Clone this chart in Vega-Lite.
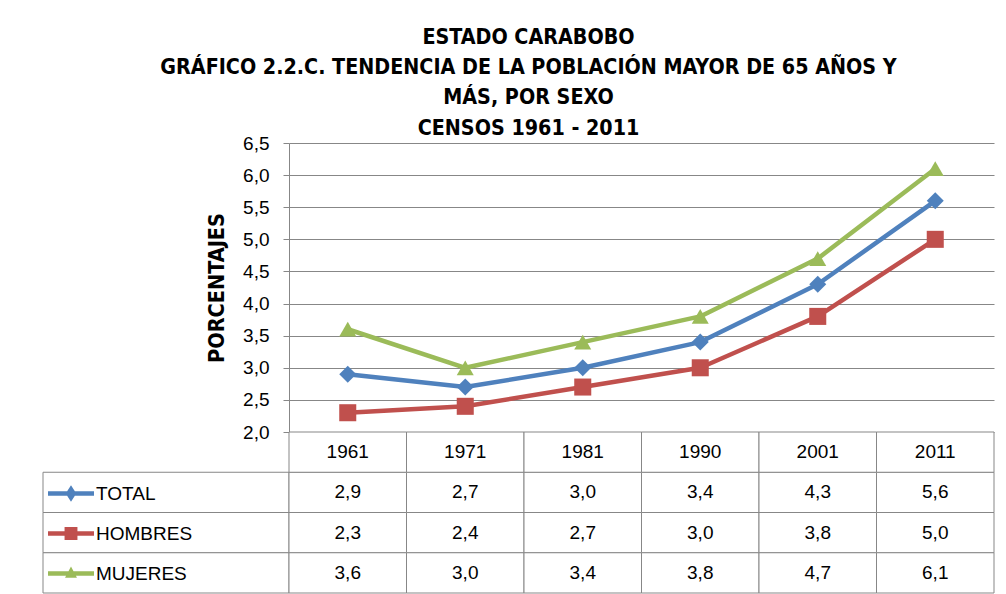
{
  "$schema": "https://vega.github.io/schema/vega-lite/v6.json",
  "padding": {"left": 42, "top": 26, "right": 0, "bottom": 0},
  "background": "white",
  "datasets": {
    "pop": [
      {"year": "1961", "series": "TOTAL", "value": 2.9},
      {"year": "1971", "series": "TOTAL", "value": 2.7},
      {"year": "1981", "series": "TOTAL", "value": 3.0},
      {"year": "1990", "series": "TOTAL", "value": 3.4},
      {"year": "2001", "series": "TOTAL", "value": 4.3},
      {"year": "2011", "series": "TOTAL", "value": 5.6},
      {"year": "1961", "series": "HOMBRES", "value": 2.3},
      {"year": "1971", "series": "HOMBRES", "value": 2.4},
      {"year": "1981", "series": "HOMBRES", "value": 2.7},
      {"year": "1990", "series": "HOMBRES", "value": 3.0},
      {"year": "2001", "series": "HOMBRES", "value": 3.8},
      {"year": "2011", "series": "HOMBRES", "value": 5.0},
      {"year": "1961", "series": "MUJERES", "value": 3.6},
      {"year": "1971", "series": "MUJERES", "value": 3.0},
      {"year": "1981", "series": "MUJERES", "value": 3.4},
      {"year": "1990", "series": "MUJERES", "value": 3.8},
      {"year": "2001", "series": "MUJERES", "value": 4.7},
      {"year": "2011", "series": "MUJERES", "value": 6.1}
    ]
  },
  "title": {
    "text": ["ESTADO CARABOBO", "GRÁFICO 2.2.C. TENDENCIA  DE LA POBLACIÓN MAYOR DE 65 AÑOS Y", "MÁS, POR SEXO", "CENSOS 1961 - 2011"],
    "font": "DejaVu Sans Condensed",
    "fontWeight": "bold",
    "fontSize": 21.3,
    "lineHeight": 30.3,
    "color": "black",
    "anchor": "middle",
    "dx": 10,
    "offset": -5
  },
  "columns": 2,
  "spacing": 0,
  "bounds": "flush",
  "resolve": {
    "scale": {"color": "independent", "fill": "independent", "shape": "independent"},
    "legend": {"color": "independent", "fill": "independent", "shape": "independent"}
  },
  "concat": [
    {
      "width": 246,
      "height": 289,
      "data": {"values": []},
      "mark": "point"
    },
    {
      "width": 705,
      "height": 289,
      "data": {"name": "pop"},
      "encoding": {
        "x": {"field": "year", "type": "ordinal", "scale": {"type": "point", "padding": 0.5}, "axis": null},
        "y": {
          "field": "value",
          "type": "quantitative",
          "scale": {"domain": [2, 6.5], "nice": false, "zero": false},
          "axis": {
            "title": "PORCENTAJES",
            "values": [2, 2.5, 3, 3.5, 4, 4.5, 5, 5.5, 6, 6.5],
            "format": ".1f",
            "grid": true,
            "gridColor": "#878787",
            "gridWidth": 1,
            "gridOpacity": 1,
            "domainColor": "#878787",
            "tickColor": "#878787",
            "tickSize": 6,
            "labelFontSize": 19,
            "labelFont": "Liberation Sans",
            "labelColor": "black",
            "labelPadding": 14,
            "labelFlush": false,
            "labelOverlap": false,
            "titleFont": "DejaVu Sans Condensed",
            "titleFontSize": 21.5,
            "titleFontWeight": "bold",
            "titleColor": "black",
            "titlePadding": 14
          }
        },
        "color": {
          "field": "series",
          "type": "nominal",
          "scale": {"domain": ["TOTAL", "HOMBRES", "MUJERES"], "range": ["#4F81BD", "#C0504D", "#9BBB59"]},
          "legend": null
        }
      },
      "layer": [
        {"mark": {"type": "line", "strokeWidth": 4.5, "strokeJoin": "round", "strokeCap": "round"}},
        {
          "mark": {"type": "point", "filled": true, "size": 290, "opacity": 1},
          "encoding": {
            "shape": {
              "field": "series",
              "type": "nominal",
              "scale": {"domain": ["TOTAL", "HOMBRES", "MUJERES"], "range": ["diamond", "square", "triangle-up"]},
              "legend": null
            }
          }
        }
      ]
    },
    {
      "width": 246,
      "height": 161,
      "data": {"name": "pop"},
      "transform": [{"filter": "datum.year === '1961'"}],
      "encoding": {
        "y": {
          "field": "series",
          "type": "nominal",
          "scale": {"domain": ["Año", "TOTAL", "HOMBRES", "MUJERES"], "paddingInner": 0, "paddingOuter": 0},
          "axis": null
        }
      },
      "layer": [
        {
          "mark": {"type": "point", "filled": true, "size": 2116, "opacity": 1},
          "encoding": {
            "fill": {
              "field": "series",
              "type": "nominal",
              "scale": {"domain": ["TOTAL", "HOMBRES", "MUJERES"], "range": ["#4F81BD", "#C0504D", "#9BBB59"]},
              "legend": {
                "orient": "none",
                "legendX": 5,
                "legendY": 38.5,
                "title": null,
                "labelFont": "Liberation Sans",
                "labelFontSize": 19,
                "labelColor": "black",
                "labelOffset": 2,
                "symbolSize": 2116,
                "symbolOpacity": 1,
                "symbolStrokeWidth": 0,
                "rowPadding": 7,
                "padding": 0,
                "zindex": 1
              }
            },
            "shape": {
              "field": "series",
              "type": "nominal",
              "scale": {
                "domain": ["TOTAL", "HOMBRES", "MUJERES"],
                "range": [
                  "M-1,-0.1L1,-0.1L1,0.1L-1,0.1Z M0,-0.36L0.23,0L0,0.36L-0.23,0Z",
                  "M-1,-0.1L1,-0.1L1,0.1L-1,0.1Z M-0.28,-0.28L0.28,-0.28L0.28,0.28L-0.28,0.28Z",
                  "M-1,-0.1L1,-0.1L1,0.1L-1,0.1Z M0,-0.3L0.26,0.18L-0.26,0.18Z"
                ]
              },
              "legend": {
                "orient": "none",
                "legendX": 5,
                "legendY": 38.5,
                "title": null,
                "labelFont": "Liberation Sans",
                "labelFontSize": 19,
                "labelColor": "black",
                "labelOffset": 2,
                "symbolSize": 2116,
                "symbolOpacity": 1,
                "symbolStrokeWidth": 0,
                "rowPadding": 7,
                "padding": 0,
                "zindex": 1
              }
            }
          }
        },
        {"mark": {"type": "rect", "fill": "white", "stroke": "#878787", "strokeWidth": 1}}
      ]
    },
    {
      "width": 705,
      "height": 161,
      "data": {"name": "pop"},
      "encoding": {
        "x": {"field": "year", "type": "ordinal", "scale": {"type": "band", "paddingInner": 0, "paddingOuter": 0}, "axis": null}
      },
      "layer": [
        {
          "mark": {"type": "rect", "fill": "white", "stroke": "#878787", "strokeWidth": 1},
          "encoding": {
            "y": {
              "field": "series",
              "type": "nominal",
              "scale": {"domain": ["Año", "TOTAL", "HOMBRES", "MUJERES"], "paddingInner": 0, "paddingOuter": 0},
              "axis": null
            }
          }
        },
        {
          "transform": [{"filter": "datum.series === 'TOTAL'"}],
          "mark": {"type": "rect", "fill": "white", "stroke": "#878787", "strokeWidth": 1},
          "encoding": {"y": {"datum": "Año", "type": "nominal"}}
        },
        {
          "mark": {"type": "text", "font": "Liberation Sans", "fontSize": 19, "color": "black", "baseline": "middle"},
          "encoding": {
            "y": {"field": "series", "type": "nominal"},
            "text": {"field": "value", "type": "quantitative", "format": ".1f"}
          }
        },
        {
          "transform": [{"filter": "datum.series === 'TOTAL'"}],
          "mark": {"type": "text", "font": "Liberation Sans", "fontSize": 19, "color": "black", "baseline": "middle"},
          "encoding": {
            "y": {"datum": "Año", "type": "nominal"},
            "text": {"field": "year", "type": "nominal"}
          }
        }
      ]
    }
  ],
  "config": {
    "view": {"stroke": null},
    "font": "Liberation Sans",
    "locale": {
      "number": {"decimal": ",", "thousands": ".", "grouping": [3], "currency": ["", ""]}
    }
  }
}
